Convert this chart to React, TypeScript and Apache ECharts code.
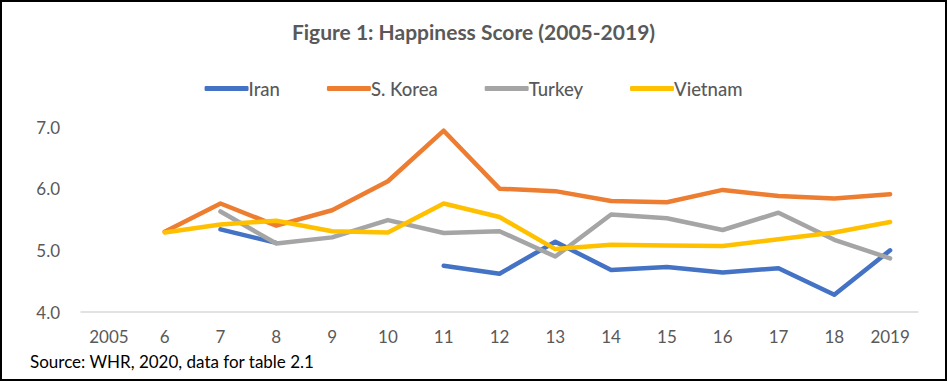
import React, { useEffect, useRef } from "react";
import * as echarts from "echarts";

const categories = ["2005", "6", "7", "8", "9", "10", "11", "12", "13", "14", "15", "16", "17", "18", "2019"];
const iran = [null, null, 5.34, 5.12, null, null, 4.75, 4.62, 5.14, 4.68, 4.73, 4.64, 4.71, 4.28, 5.0];
const korea = [null, 5.3, 5.76, 5.4, 5.65, 6.12, 6.94, 6.0, 5.96, 5.8, 5.78, 5.98, 5.88, 5.84, 5.91];
const turkey = [null, null, 5.63, 5.11, 5.21, 5.49, 5.28, 5.31, 4.9, 5.58, 5.52, 5.33, 5.61, 5.17, 4.87];
const vietnam = [null, 5.29, 5.42, 5.48, 5.31, 5.29, 5.76, 5.54, 5.02, 5.09, 5.08, 5.07, 5.18, 5.29, 5.46];
const seriesNames = ["Iran", "S. Korea", "Turkey", "Vietnam"];
const colors = ["#4472C4", "#ED7D31", "#A5A5A5", "#FFC000"];
const titleText = "Figure 1: Happiness Score (2005-2019)";
const sourceText = "Source: WHR, 2020, data for table 2.1";

const FONT = "Lato, 'Open Sans', sans-serif";

export default function App() {
  const ref = useRef<HTMLDivElement>(null);
  useEffect(() => {
    document.body.style.margin = "0";
    if (!ref.current) return;
    const chart = echarts.init(ref.current, null, { renderer: "svg" });
    const data = [iran, korea, turkey, vietnam];
    chart.setOption({
      animation: false,
      title: {
        text: titleText,
        left: "center",
        top: 14,
        textStyle: { fontFamily: FONT, fontSize: 21, fontWeight: "bold", color: "#595959" },
      },
      legend: {
        top: 72,
        left: "center",
        icon: "roundRect",
        itemWidth: 44,
        itemHeight: 5,
        itemGap: 47,
        data: seriesNames,
        textStyle: { fontFamily: FONT, fontSize: 18.5, fontWeight: 500, color: "#595959", padding: [0, 0, 0, -5] },
      },
      grid: { left: 79, right: 27, top: 125, bottom: 67 },
      xAxis: {
        type: "category",
        data: categories,
        boundaryGap: true,
        axisTick: { show: false },
        axisLine: { lineStyle: { color: "#D9D9D9", width: 1.5 } },
        axisLabel: { fontFamily: FONT, fontSize: 17, color: "#595959", margin: 16 },
      },
      yAxis: {
        type: "value",
        min: 4,
        max: 7,
        interval: 1,
        splitLine: { show: false },
        axisLine: { show: false },
        axisTick: { show: false },
        axisLabel: {
          fontFamily: FONT,
          fontSize: 17,
          color: "#595959",
          margin: 21,
          formatter: (v: number) => v.toFixed(1),
        },
      },
      series: seriesNames.map((name, i) => ({
        name,
        type: "line",
        data: data[i],
        color: colors[i],
        showSymbol: false,
        symbol: "none",
        connectNulls: false,
        lineStyle: { width: 4.5, color: colors[i], cap: "round", join: "round" },
      })),
      graphic: [
        {
          type: "rect",
          shape: { x: 0, y: 341, width: 826, height: 35 },
          style: { fill: "#ffffff" },
          z: 100,
        },
        {
          type: "text",
          x: 28,
          y: 359,
          z: 101,
          style: {
            text: sourceText,
            fontFamily: FONT,
            fontSize: 17,
            fill: "#000000",
            verticalAlign: "middle",
          },
        },
      ],
    });
    return () => chart.dispose();
  }, []);
  return (
    <div
      style={{
        width: 947,
        height: 381,
        border: "2px solid #000",
        boxSizing: "border-box",
        background: "#fff",
      }}
    >
      <div ref={ref} style={{ width: 943, height: 377 }} />
    </div>
  );
}
